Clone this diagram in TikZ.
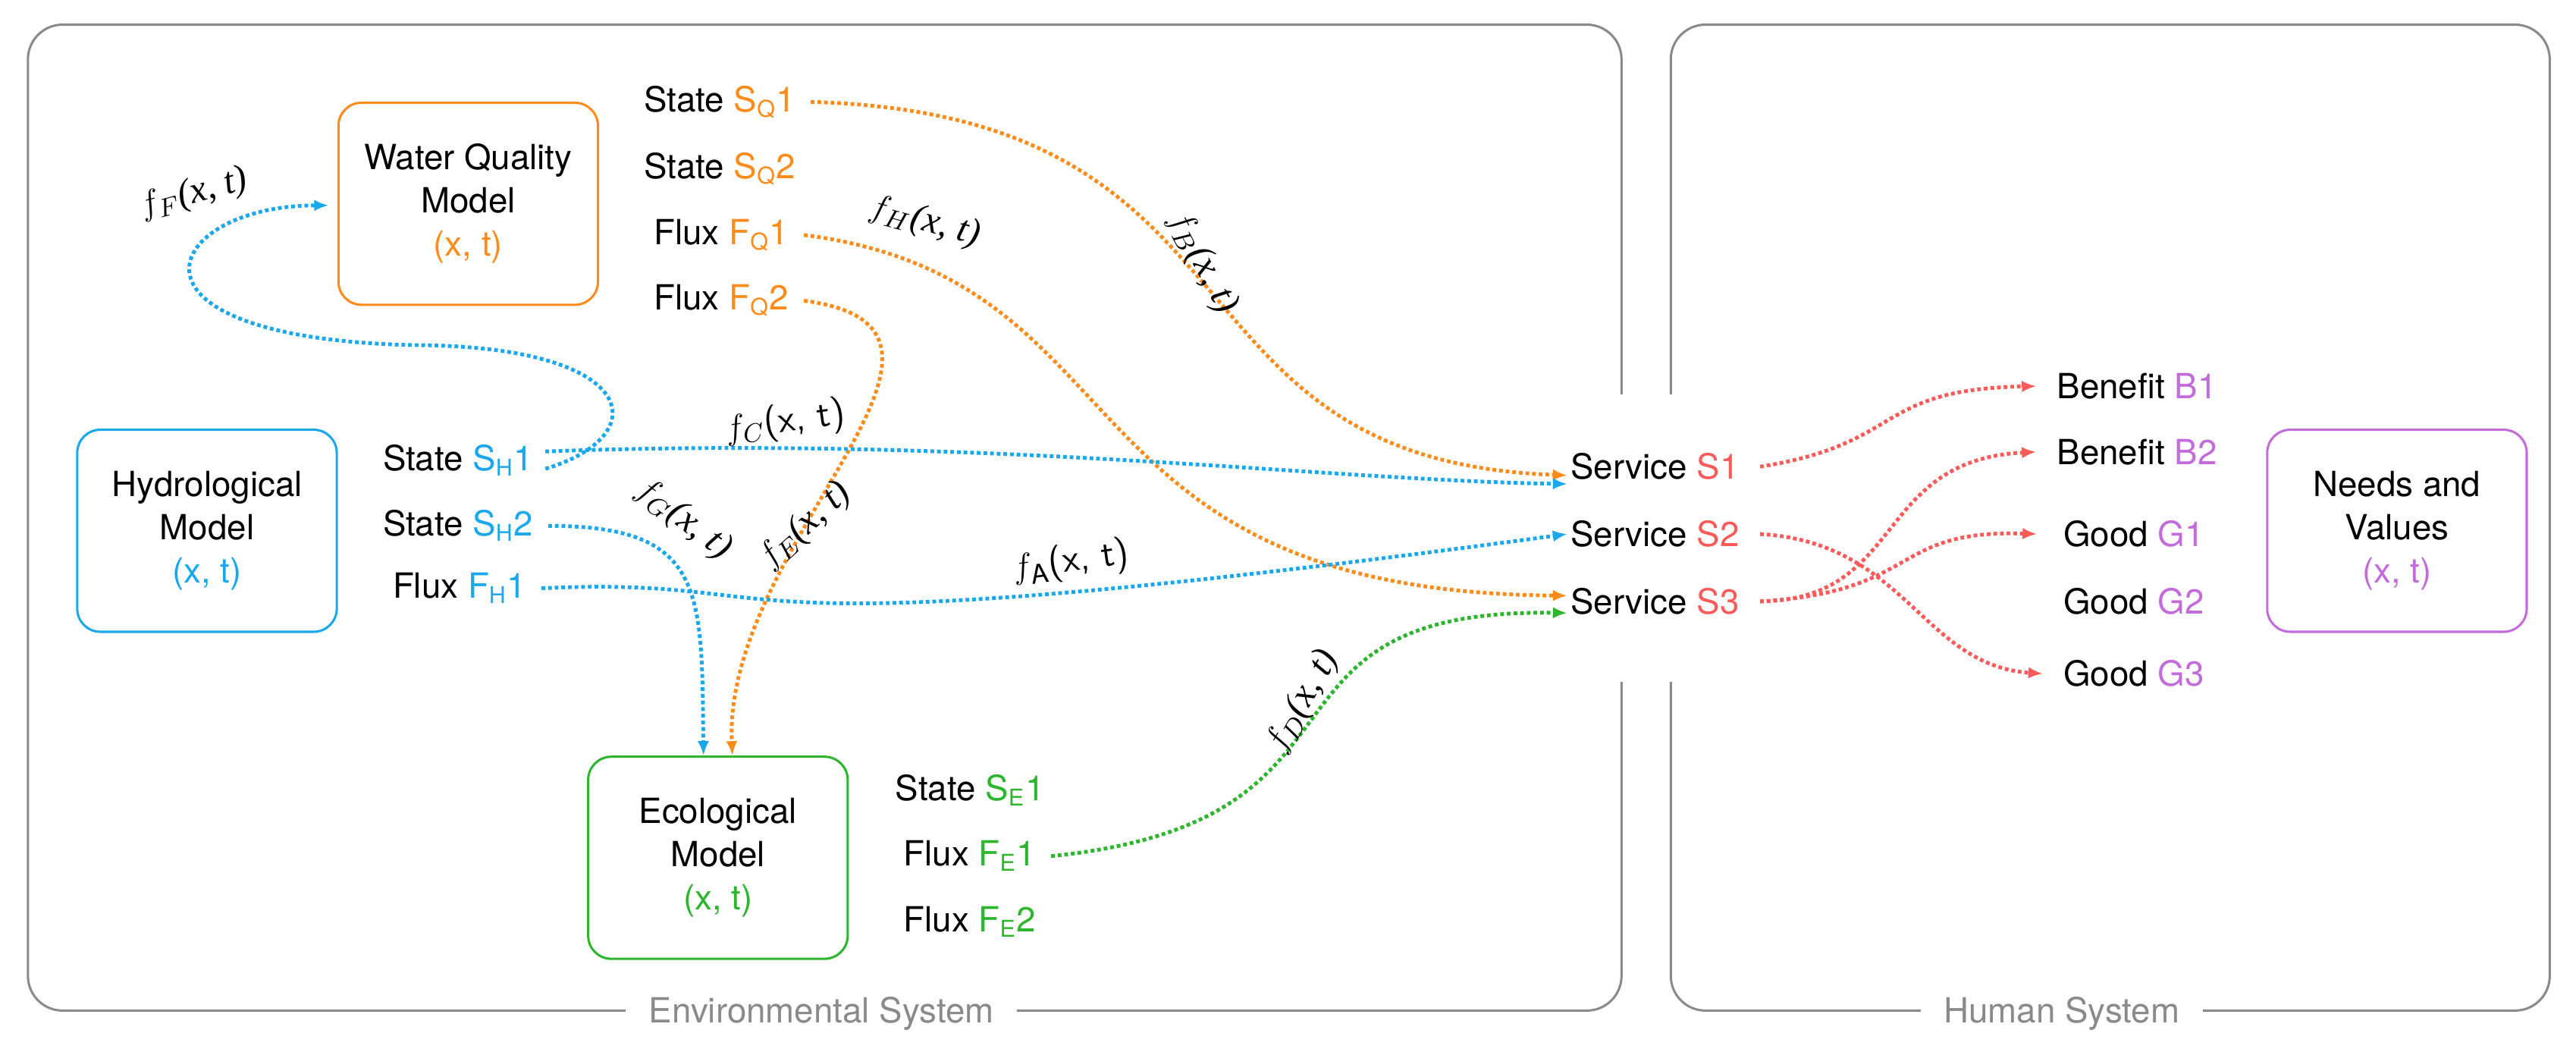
\documentclass[tikz,border=0pt]{standalone}
\usepackage{fontspec}
\setmainfont{TeX Gyre Heros}
\newfontfamily\fnserif{Liberation Serif}
\usetikzlibrary{arrows.meta}
\definecolor{qorange}{HTML}{FF8C1A}
\definecolor{hblue}{HTML}{1AA7EC}
\definecolor{egreen}{HTML}{2DB52D}
\definecolor{sred}{HTML}{FF5A5A}
\definecolor{npurple}{HTML}{C46BDB}
\definecolor{sysgray}{HTML}{8A8A8A}
\tikzset{
  model/.style={draw, rounded corners=8pt, line width=0.8pt, minimum width=3.16cm,
    minimum height=2.46cm, align=center, font=\fontsize{12}{15}\selectfont},
  var/.style={anchor=west, inner sep=1pt, font=\fontsize{12}{14}\selectfont},
  flow/.style={densely dotted, line width=1.3pt, -{Latex[length=5pt,width=4pt]}},
  fn/.style={inner sep=1pt, font=\fontsize{13}{15}\selectfont\fnserif\itshape},
  sys/.style={text=sysgray, fill=white, inner xsep=8pt, font=\fontsize{12}{14}\selectfont}
}
\begin{document}
\begin{tikzpicture}[x=0.02cm,y=-0.02cm]
    \useasboundingbox (0,0) rectangle (1568,640);
    % System frames
    \draw[sysgray, line width=0.8pt, rounded corners=12pt]
      (987,240) -- (987,15) -- (17,15) -- (17,615) -- (987,615) -- (987,415);
    \draw[sysgray, line width=0.8pt, rounded corners=12pt]
      (1017,240) -- (1017,15) -- (1552,15) -- (1552,615) -- (1017,615) -- (1017,415);
    \node[sys] (env) at (500,617) {Environmental System};
    \node[sys] (hum) at (1255,617) {Human System};
    % Models
    \node[model, draw=qorange] (wq) at (285,124) {Water Quality\\Model\\\textcolor{qorange}{(x, t)}};
    \node[model, draw=hblue] (hyd) at (126,323) {Hydrological\\Model\\\textcolor{hblue}{(x, t)}};
    \node[model, draw=egreen] (eco) at (437,522) {Ecological\\Model\\\textcolor{egreen}{(x, t)}};
    \node[model, draw=npurple] (nv) at (1459,323) {Needs and\\Values\\\textcolor{npurple}{(x, t)}};
    % Variables
    \node[var] (sq1) at (390,62) {State \textcolor{qorange}{S\textsubscript{Q}1}};
    \node[var] (sq2) at (390,103) {State \textcolor{qorange}{S\textsubscript{Q}2}};
    \node[var] (fq1) at (396,143) {Flux \textcolor{qorange}{F\textsubscript{Q}1}};
    \node[var] (fq2) at (396,183) {Flux \textcolor{qorange}{F\textsubscript{Q}2}};
    \node[var] (sh1) at (231,280) {State \textcolor{hblue}{S\textsubscript{H}1}};
    \node[var] (sh2) at (231,320) {State \textcolor{hblue}{S\textsubscript{H}2}};
    \node[var] (fh1) at (237,358) {Flux \textcolor{hblue}{F\textsubscript{H}1}};
    \node[var] (se1) at (543,481) {State \textcolor{egreen}{S\textsubscript{E}1}};
    \node[var] (fe1) at (548,521) {Flux \textcolor{egreen}{F\textsubscript{E}1}};
    \node[var] (fe2) at (548,561) {Flux \textcolor{egreen}{F\textsubscript{E}2}};
    \node[var] (s1) at (954,284) {Service \textcolor{sred}{S1}};
    \node[var] (s2) at (954,325) {Service \textcolor{sred}{S2}};
    \node[var] (s3) at (954,366) {Service \textcolor{sred}{S3}};
    \node[var] (b1) at (1250,235) {Benefit \textcolor{npurple}{B1}};
    \node[var] (b2) at (1250,275) {Benefit \textcolor{npurple}{B2}};
    \node[var] (g1) at (1254,325) {Good \textcolor{npurple}{G1}};
    \node[var] (g2) at (1254,366) {Good \textcolor{npurple}{G2}};
    \node[var] (g3) at (1254,410) {Good \textcolor{npurple}{G3}};
    % Flows
    \draw[flow, qorange] ([xshift=4pt]sq1.east) .. controls (780,70) and (700,280) .. ([yshift=-3pt]s1.west);
    \draw[flow, qorange] ([xshift=4pt]fq1.east) .. controls (700,170) and (640,360) .. ([yshift=2pt]s3.west);
    \draw[flow, qorange] ([xshift=4pt]fq2.east) .. controls (620,200) and (440,330) .. ([xshift=5pt]eco.north);
    \draw[flow, hblue] ([xshift=3pt,yshift=-3pt]sh1.east) .. controls (400,265) and (390,210) .. (250,210)
      .. controls (60,205) and (100,125) .. ([xshift=-3pt]wq.west |- 0,125);
    \draw[flow, hblue] ([xshift=3pt,yshift=3pt]sh1.east) .. controls (600,265) and (800,292) .. ([yshift=-6pt]s1.west);
    \draw[flow, hblue] ([xshift=4pt]sh2.east) .. controls (430,320) and (427,360) .. ([xshift=-5pt]eco.north);
    \draw[flow, hblue] ([xshift=4pt]fh1.east) .. controls (500,350) and (400,400) .. (s2.west);
    \draw[flow, egreen] ([xshift=4pt]fe1.east) .. controls (850,500) and (750,370) .. ([yshift=-4pt]s3.west);
    \draw[flow, sred] ([xshift=6pt]s1.east) .. controls (1160,270) and (1140,237) .. ([xshift=-6pt]b1.west);
    \draw[flow, sred] ([xshift=6pt]s2.east) .. controls (1160,330) and (1170,405) .. ([xshift=-6pt]g3.west);
    \draw[flow, sred] ([xshift=6pt]s3.east) .. controls (1160,365) and (1140,280) .. ([xshift=-6pt]b2.west);
    \draw[flow, sred] ([xshift=6pt]s3.east) .. controls (1170,360) and (1150,322) .. ([xshift=-8pt]g1.west);
    % Transfer functions
    \node[fn, rotate=15] (ff) at (118,118) {$f_F$(x, t)};
    \node[fn, rotate=-15] (fh) at (563,135) {$f_H$(x, t)};
    \node[fn, rotate=-62] (fb) at (732,160) {$f_B$(x, t)};
    \node[fn, rotate=8] (fc) at (478,257) {$f_C$\textup{\sffamily(x, t)}};
    \node[fn, rotate=-38] (fg) at (416,316) {$f_G$(x, t)};
    \node[fn, rotate=42] (fe) at (490,320) {$f_E$(x, t)};
    \node[fn, rotate=8] (fa) at (652,342) {$f_{\mathrm{A}}$\textup{\sffamily(x, t)}};
    \node[fn, rotate=60] (fd) at (793,427) {$f_D$(x, t)};
\end{tikzpicture}
\end{document}
